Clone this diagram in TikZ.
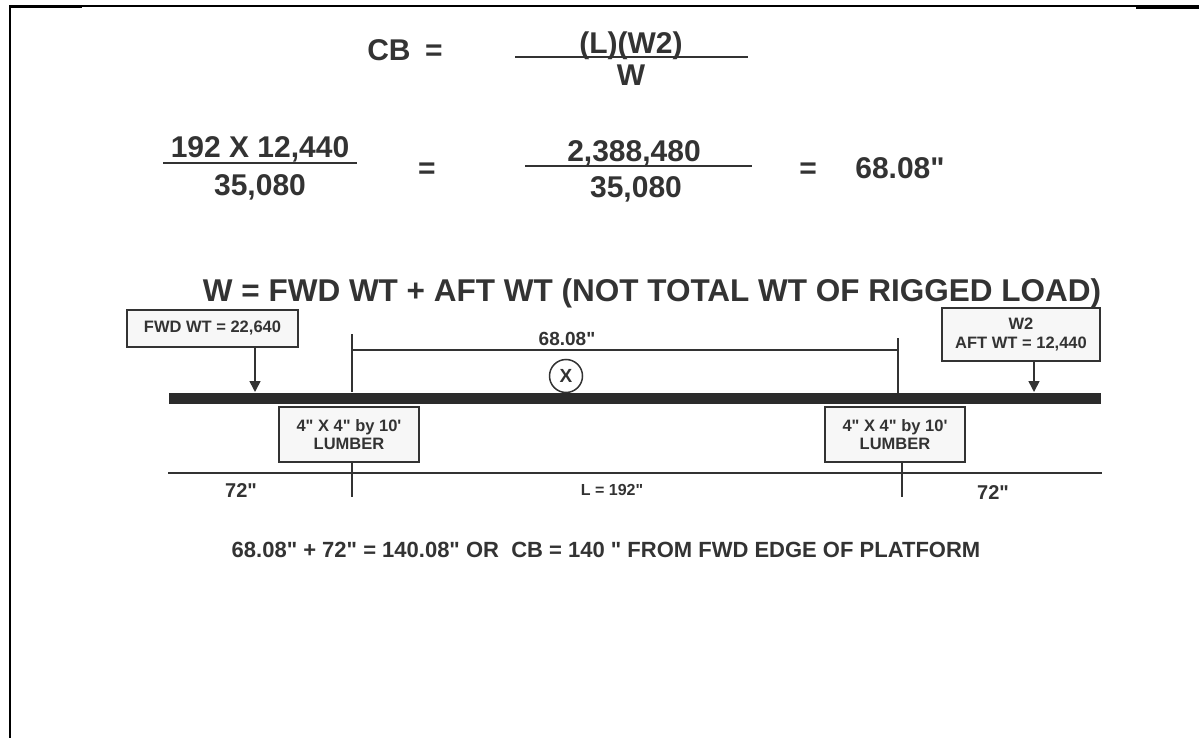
\documentclass[tikz,border=0pt]{standalone}
\usepackage{fontspec}
\setmainfont[Ligatures=TeXOff]{Liberation Sans}
\usetikzlibrary{arrows.meta,calc}
\definecolor{ink}{HTML}{333333}
\definecolor{boxfill}{HTML}{F7F7F7}
\newcommand{\fsz}[1]{\fontsize{#1}{#1}\selectfont\bfseries}

\begin{document}
\begin{tikzpicture}[x=1pt,y=-1pt,>={Triangle[width=11pt,length=11pt]},
    txt/.style={text=ink,inner sep=0pt},
    big/.style={txt,font=\fsz{30}},
    mid/.style={txt,font=\fsz{19}},
    tag/.style={draw=ink,line width=1.5pt,fill=boxfill,text=ink,font=\fsz{16.5},align=center,inner sep=0pt},
    rule/.style={draw=ink,line width=1.6pt}]
      \useasboundingbox (0,0) rectangle (1199,738);
      % frame
      \draw[line width=2pt] (10,738) -- (10,6) -- (1199,6);
      \draw[line width=3.5pt] (9,6.5) -- (82,6.5);
      \draw[line width=3.5pt] (1136,7) -- (1199,7);
      % CB = (L)(W2)/W
      \node[big,anchor=base] (cb) at (389,61) {CB};
      \node[big,anchor=base] (eq1) at (434,61) {=};
      \node[big,anchor=base] (lw2) at (631,54) {(L)(W2)};
      \draw[rule] (515,57) -- (748,57);
      \node[big,anchor=base] (w) at (631,86) {W};
      % 192 x 12,440 / 35,080
      \node[big,anchor=base] (num1) at (260,158) {192 X 12,440};
      \draw[rule] (163,163) -- (357,163);
      \node[big,anchor=base] (den1) at (260,196) {35,080};
      \node[big,anchor=base] (eq2) at (427,179) {=};
      \node[big,anchor=base] (num2) at (634,162) {2,388,480};
      \draw[rule] (525,166) -- (752,166);
      \node[big,anchor=base] (den2) at (636,198) {35,080};
      \node[big,anchor=base] (eq3) at (808,179) {=};
      \node[big,anchor=base] (res) at (900,179) {68.08"};
      % W = ...
      \node[big,anchor=base,font=\fsz{31.5}] (wdef) at (652,301) {W = FWD WT + AFT WT (NOT TOTAL WT OF RIGGED LOAD)};
      % beam and loads
      \fill[ink!85!black] (169,393) rectangle (1101,404);
      \node[tag,minimum width=171pt,minimum height=37pt] (fwd) at (212.5,328.5) {FWD WT = 22,640};
      \node[tag,minimum width=158pt,minimum height=53pt] (aft) at (1021,334.5) {W2\\[2pt]AFT WT = 12,440};
      \coordinate (fwdtip) at (255,392);
      \coordinate (afttip) at (1034,392);
      \draw[rule,->] (fwd.south -| fwdtip) -- (fwdtip);
      \draw[rule,->] (aft.south -| afttip) -- (afttip);
      % lumber
      \foreach \name/\cx/\tx in {lumL/349/352,lumR/895/902} {
        \node[tag,minimum width=140pt,minimum height=55pt] (\name) at (\cx,434.5) {4" X 4" by 10'\\[1pt]LUMBER};
        \coordinate (\name tick) at (\tx,497);
        \draw[rule] (\name.south -| \name tick) -- (\name tick);
      }
      % 68.08" dimension
      \coordinate (dimL) at (352,350);
      \coordinate (dimR) at (898,350);
      \draw[rule] (352,334) -- (352,392);
      \draw[rule] (898,338) -- (898,393);
      \draw[rule] (dimL) -- (dimR);
      \node[mid,anchor=base] (dimtxt) at (567,345) {68.08"};
      \node[mid,draw=ink,line width=1.5pt,circle,minimum size=33pt] (cg) at (566,376) {X};
      % lower line
      \draw[rule] (168,473) -- (1102,473);
      \node[mid,anchor=base,font=\fsz{20}] (left72) at (241,497) {72"};
      \node[mid,anchor=base,font=\fsz{16}] (span) at (612,495) {L = 192"};
      \node[mid,anchor=base,font=\fsz{20}] (right72) at (993,499) {72"};
      % result
      \node[txt,font=\fsz{22},anchor=base] (final) at (606,557) {68.08" + 72" = 140.08" OR\ \ CB = 140 " FROM FWD EDGE OF PLATFORM};
   \end{tikzpicture}
\end{document}
